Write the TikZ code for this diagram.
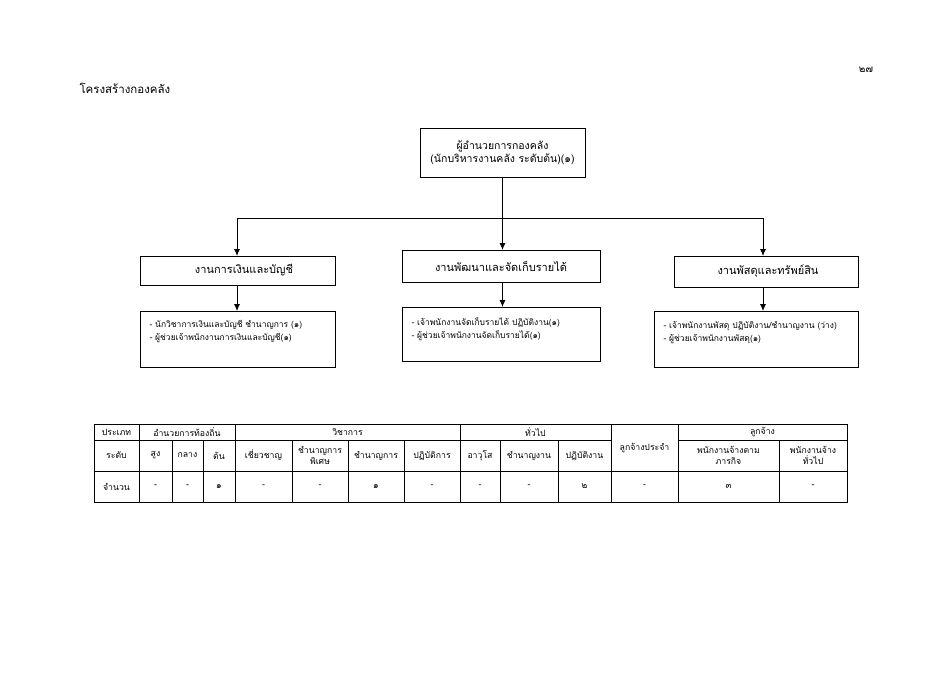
\documentclass[tikz,border=0pt]{standalone}
\usepackage{fontspec}
\setmainfont{Loma}[Script=Thai]
\usetikzlibrary{arrows.meta}
\tikzset{
  box/.style={draw, line width=0.9pt, inner sep=0pt},
  hdr/.style={font=\fontsize{11}{13}\selectfont, anchor=center},
  tophdr/.style={font=\fontsize{10.5}{13}\selectfont, anchor=center, align=center},
  lst/.style={font=\fontsize{8.5}{13}\selectfont, anchor=west, align=left},
  tb/.style={font=\fontsize{8.7}{11}\selectfont, anchor=center, align=center},
  arr/.style={line width=0.9pt, -{Latex[length=7pt,width=6pt]}},
  ln/.style={line width=0.9pt},
  tl/.style={line width=0.7pt},
}
\begin{document}
\begin{tikzpicture}[x=1pt,y=-1pt]
\useasboundingbox (0,0) rectangle (950,672);
% title and page number
\node[font=\fontsize{11.5}{13}\selectfont, anchor=west] (title) at (76,88) {โครงสร้างกองคลัง};
\node[font=\fontsize{10}{12}\selectfont] (pg) at (866,70) {๒๗};
% top box
\draw[box] (420,128) rectangle (585,177);
\node[tophdr] (top) at (502.5,152.5) {ผู้อำนวยการกองคลัง\\(นักบริหารงานคลัง ระดับต้น)(๑)};
\coordinate (topb) at (502.5,177);
\coordinate (j) at (502.5,218);
\coordinate (jl) at (237,218);
\coordinate (jr) at (763,218);
% level 2 boxes
\draw[box] (140,256) rectangle (335,285);
\node[hdr] (a) at (244,270.5) {งานการเงินและบัญชี};
\draw[box] (402,250) rectangle (600,282);
\node[hdr] (b) at (501,266) {งานพัฒนาและจัดเก็บรายได้};
\draw[box] (674,256) rectangle (858,287);
\node[hdr] (c) at (768,271.5) {งานพัสดุและทรัพย์สิน};
% connectors
\draw[ln] (topb) -- (j);
\draw[ln] (jl) -- (jr);
\draw[arr] (jl) -- (237,256);
\draw[arr] (j) -- (502.5,250);
\draw[arr] (jr) -- (763,256);
% level 3 boxes
\draw[box] (140,311) rectangle (335,367);
\node[lst] (a1) at (146,332) {- นักวิชาการเงินและบัญชี  ชำนาญการ (๑)\\- ผู้ช่วยเจ้าพนักงานการเงินและบัญชี(๑)};
\draw[box] (402,307) rectangle (600,361);
\node[lst] (b1) at (408,329) {- เจ้าพนักงานจัดเก็บรายได้ ปฏิบัติงาน(๑)\\- ผู้ช่วยเจ้าพนักงานจัดเก็บรายได้(๑)};
\draw[box] (654,311) rectangle (858,367);
\node[lst] (c1) at (660,333) {- เจ้าพนักงานพัสดุ ปฏิบัติงาน/ชำนาญงาน (ว่าง)\\- ผู้ช่วยเจ้าพนักงานพัสดุ(๑)};
\draw[arr] (237,285) -- (237,311);
\draw[arr] (502.5,282) -- (502.5,307);
\draw[arr] (763,287) -- (763,311);
% table
\def\ya{424}\def\yb{440}\def\yc{471}\def\yd{502}
\draw[line width=0.9pt] (94,\ya) rectangle (847,\yd);
\draw[tl] (94,\yb) -- (611,\yb);
\draw[tl] (678,\yb) -- (847,\yb);
\draw[tl] (94,\yc) -- (847,\yc);
\foreach \x in {139,235,460,611,678} \draw[tl] (\x,\ya) -- (\x,\yd);
\foreach \x in {172,203,292,348,404,500,558,779} \draw[tl] (\x,\yb) -- (\x,\yd);
% row 1
\node[tb] (h1) at (116.5,432) {ประเภท};
\node[tb] (h2) at (187,432) {อำนวยการท้องถิ่น};
\node[tb] (h3) at (347.5,432) {วิชาการ};
\node[tb] (h4) at (535.5,432) {ทั่วไป};
\node[tb] (h5) at (644.5,447.5) {ลูกจ้างประจำ};
\node[tb] (h6) at (762.5,432) {ลูกจ้าง};
% row 2
\node[tb] (r1) at (116.5,455.5) {ระดับ};
\node[tb] (r2) at (155.5,455.5) {สูง};
\node[tb] (r3) at (187.5,455.5) {กลาง};
\node[tb] (r4) at (219,455.5) {ต้น};
\node[tb] (r5) at (263.5,455.5) {เชี่ยวชาญ};
\node[tb] (r6) at (320,455.5) {ชำนาญการ\\พิเศษ};
\node[tb] (r7) at (376,455.5) {ชำนาญการ};
\node[tb] (r8) at (432,455.5) {ปฏิบัติการ};
\node[tb] (r9) at (480,455.5) {อาวุโส};
\node[tb] (r10) at (529,455.5) {ชำนาญงาน};
\node[tb] (r11) at (584.5,455.5) {ปฏิบัติงาน};
\node[tb] (r12) at (728.5,455.5) {พนักงานจ้างตาม\\ภารกิจ};
\node[tb] (r13) at (813,455.5) {พนักงานจ้าง\\ทั่วไป};
% row 3
\node[tb] (n1) at (116.5,486.5) {จำนวน};
\node[tb] (n2) at (155.5,486.5) {-};
\node[tb] (n3) at (187.5,486.5) {-};
\node[tb] (n4) at (219,486.5) {๑};
\node[tb] (n5) at (263.5,486.5) {-};
\node[tb] (n6) at (320,486.5) {-};
\node[tb] (n7) at (376,486.5) {๑};
\node[tb] (n8) at (432,486.5) {-};
\node[tb] (n9) at (480,486.5) {-};
\node[tb] (n10) at (529,486.5) {-};
\node[tb] (n11) at (584.5,486.5) {๒};
\node[tb] (n12) at (644.5,486.5) {-};
\node[tb] (n13) at (728.5,486.5) {๓};
\node[tb] (n14) at (813,486.5) {-};
\end{tikzpicture}
\end{document}
